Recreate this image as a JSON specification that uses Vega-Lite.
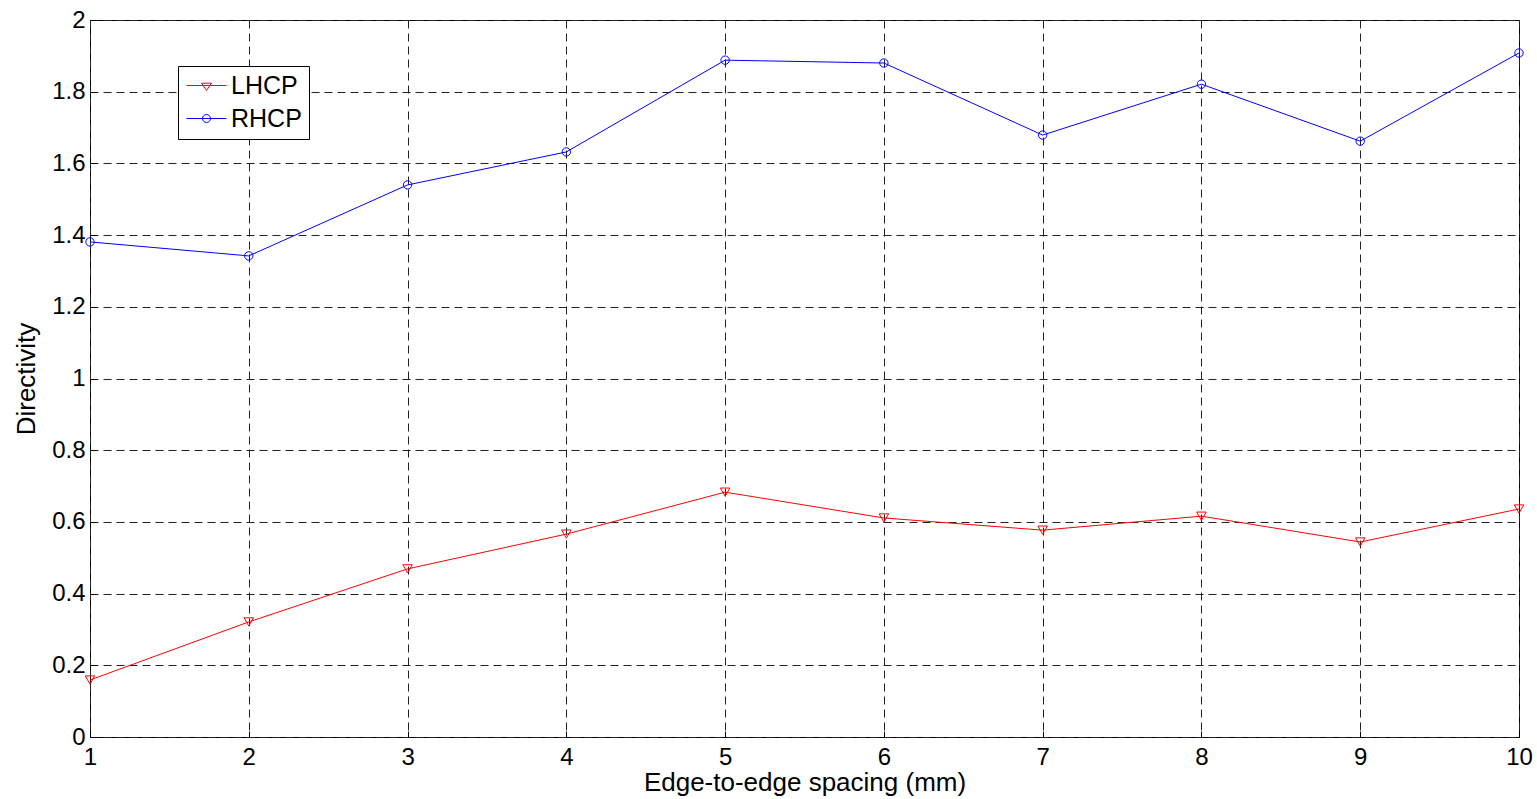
{
  "$schema": "https://vega.github.io/schema/vega-lite/v6.json",
  "autosize": "none",
  "width": 1429,
  "height": 717,
  "padding": {"left": 90, "top": 20, "right": 18, "bottom": 62},
  "background": "white",
  "config": {
    "view": {"stroke": "#000", "strokeWidth": 1},
    "font": "Liberation Sans",
    "axis": {
      "domain": false,
      "ticks": true,
      "tickSize": -6,
      "tickColor": "#000",
      "tickWidth": 1,
      "grid": true,
      "gridColor": "#222",
      "gridDash": [8, 5],
      "gridWidth": 1,
      "labelFont": "Liberation Sans",
      "labelFontSize": 24,
      "labelColor": "#000",
      "titleFont": "Liberation Sans",
      "titleFontSize": 26,
      "titleFontWeight": "normal",
      "titleColor": "#000"
    }
  },
  "data": {
    "values": [
      {"x": 1, "series": "LHCP", "value": 0.159},
      {"x": 2, "series": "LHCP", "value": 0.321},
      {"x": 3, "series": "LHCP", "value": 0.469},
      {"x": 4, "series": "LHCP", "value": 0.566},
      {"x": 5, "series": "LHCP", "value": 0.683},
      {"x": 6, "series": "LHCP", "value": 0.611},
      {"x": 7, "series": "LHCP", "value": 0.577},
      {"x": 8, "series": "LHCP", "value": 0.616},
      {"x": 9, "series": "LHCP", "value": 0.544},
      {"x": 10, "series": "LHCP", "value": 0.636},
      {"x": 1, "series": "RHCP", "value": 1.381},
      {"x": 2, "series": "RHCP", "value": 1.342},
      {"x": 3, "series": "RHCP", "value": 1.540},
      {"x": 4, "series": "RHCP", "value": 1.632},
      {"x": 5, "series": "RHCP", "value": 1.888},
      {"x": 6, "series": "RHCP", "value": 1.880},
      {"x": 7, "series": "RHCP", "value": 1.679},
      {"x": 8, "series": "RHCP", "value": 1.821},
      {"x": 9, "series": "RHCP", "value": 1.662},
      {"x": 10, "series": "RHCP", "value": 1.908}
    ]
  },
  "encoding": {
    "x": {
      "field": "x",
      "type": "quantitative",
      "scale": {"domain": [1, 10], "nice": false, "zero": false},
      "axis": {
        "title": "Edge-to-edge spacing (mm)",
        "values": [1, 2, 3, 4, 5, 6, 7, 8, 9, 10],
        "format": "d",
        "labelPadding": 14,
        "titlePadding": 0,
        "labelFlush": false,
        "labelOverlap": false
      }
    },
    "y": {
      "field": "value",
      "type": "quantitative",
      "scale": {"domain": [0, 2], "nice": false},
      "axis": {
        "title": "Directivity",
        "values": [0, 0.2, 0.4, 0.6, 0.8, 1, 1.2, 1.4, 1.6, 1.8, 2],
        "format": "~g",
        "labelPadding": 11,
        "titlePadding": 12,
        "labelFlush": false,
        "labelOverlap": false
      }
    },
    "color": {
      "field": "series",
      "type": "nominal",
      "scale": {"domain": ["LHCP", "RHCP"], "range": ["#ff0000", "#0000ff"]},
      "legend": {
        "title": null,
        "orient": "none",
        "legendX": 88,
        "legendY": 46,
        "direction": "vertical",
        "strokeColor": "#000",
        "fillColor": "#fff",
        "padding": 7,
        "symbolSize": 400,
        "symbolOffset": 9,
        "symbolStrokeWidth": 1,
        "symbolFillColor": "transparent",
        "labelOffset": 12,
        "labelFont": "Liberation Sans",
        "labelFontSize": 25,
        "labelColor": "#000",
        "rowPadding": 7,
        "encode": {
          "symbols": {
            "update": {
              "shape": {"signal": "datum.value === 'LHCP' ? 'M-2,0L2,0M-0.5,-0.23L0.5,-0.23L0,0.5Z' : 'M-2,0L2,0M0.4,0A0.4,0.4 0 1,1 -0.4,0A0.4,0.4 0 1,1 0.4,0'"},
              "fill": {"value": "transparent"},
              "strokeWidth": {"value": 1}
            }
          }
        }
      }
    }
  },
  "layer": [
    {
      "mark": {"type": "line", "strokeWidth": 1}
    },
    {
      "transform": [{"filter": "datum.series === 'LHCP'"}],
      "mark": {"type": "point", "shape": "triangle-down", "filled": false, "strokeWidth": 1, "size": 90, "opacity": 1}
    },
    {
      "transform": [{"filter": "datum.series === 'RHCP'"}],
      "mark": {"type": "point", "shape": "circle", "filled": false, "strokeWidth": 1, "size": 70, "opacity": 1}
    }
  ]
}
